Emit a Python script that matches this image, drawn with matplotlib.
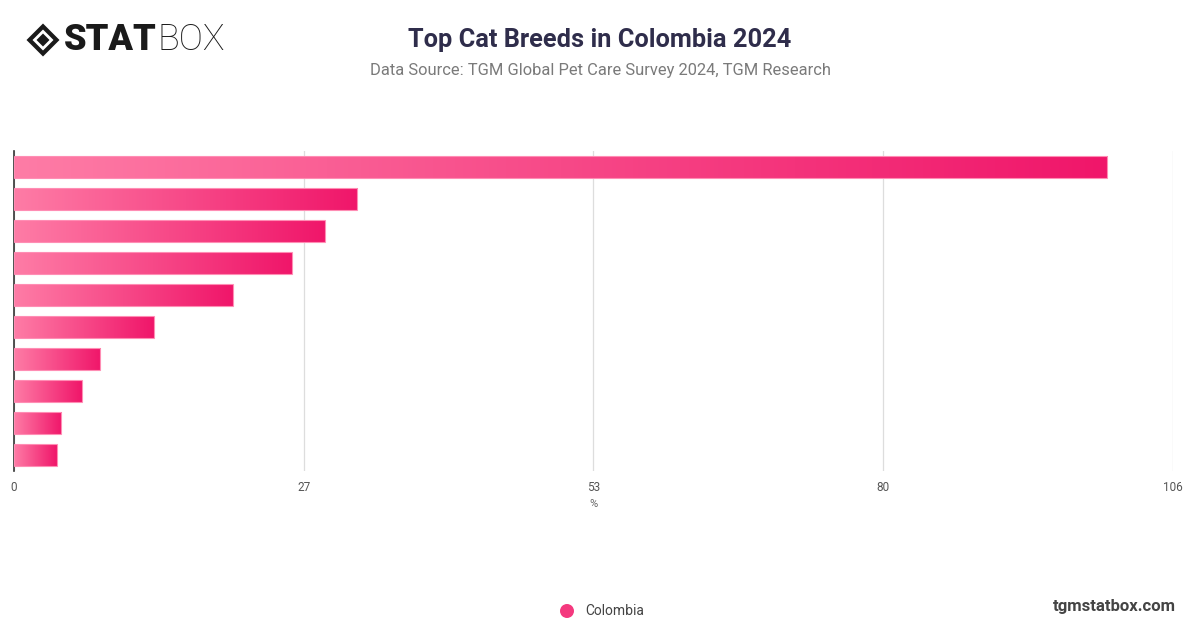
import matplotlib
matplotlib.use("Agg")
import matplotlib.pyplot as plt
import numpy as np
from matplotlib.colors import LinearSegmentedColormap
from matplotlib.patches import Polygon, Ellipse

# ---- data ----
categories = ["Breed 1", "Breed 2", "Breed 3", "Breed 4", "Breed 5",
              "Breed 6", "Breed 7", "Breed 8", "Breed 9", "Breed 10"]
values = [100.0, 31.4, 28.4, 25.4, 20.0, 12.8, 7.9, 6.2, 4.3, 3.9]
x_max = 106
xtick_labels = ["0", "27", "53", "80", "106"]
series_name = "Colombia"
title = "Top Cat Breeds in Colombia 2024"
subtitle = "Data Source: TGM Global Pet Care Survey 2024, TGM Research"

W, H = 1200, 628
fig = plt.figure(figsize=(W / 100, H / 100), dpi=100)
fig.patch.set_facecolor("white")

ax = fig.add_axes([14 / W, 1 - 471 / H, (1173 - 14) / W, (471 - 151) / H])
ypos = np.arange(len(categories))
bars = ax.barh(ypos, values, height=0.69, color="none", edgecolor="#ff8db4",
               linewidth=0.8, zorder=3)

cmap = LinearSegmentedColormap.from_list("pk", ["#fe7ca6", "#f0166a"])
grad = np.linspace(0, 1, 256).reshape(1, -1)
for rect in bars:
    x0, y0 = rect.get_x(), rect.get_y()
    w, h = rect.get_width(), rect.get_height()
    im = ax.imshow(grad, cmap=cmap, aspect="auto", extent=(x0, x0 + w, y0 + h, y0),
                   zorder=2, interpolation="bilinear")
    im.set_clip_path(rect)
ax.set_ylim(len(categories) - 0.5, -0.5)
ax.set_xlim(0, x_max)

xtick_pos = np.linspace(0, x_max, len(xtick_labels))
ax.set_xticks(xtick_pos)
ax.set_xticklabels(xtick_labels)
ax.set_yticks([])
ax.tick_params(axis="x", length=0, pad=7, labelsize=8.5, labelcolor="#555555")
for lab in ax.get_xticklabels():
    lab.set_fontfamily("Roboto")
for s in ["top", "right", "bottom"]:
    ax.spines[s].set_visible(False)
ax.spines["left"].set_color("#333333")
ax.spines["left"].set_linewidth(1.2)
ax.grid(axis="x", color="#dddddd", linewidth=0.9, zorder=0)
ax.set_axisbelow(True)
ax.set_xlabel("%", fontsize=8, color="#666666", family="Roboto", labelpad=4)

# titles
fig.text(0.5, 1 - 40 / H, title, ha="center", va="center", fontsize=18.3,
         fontweight="bold", color="#2f2d4b", family="Roboto")
fig.text(0.5, 1 - 71 / H, subtitle, ha="center", va="center", fontsize=11.9,
         color="#7a7a7a", family="Roboto")

# logo
cx, cy = 43 / W, 1 - 40 / H
dx, dy = 16.5 / W, 16.5 / H
fig.patches.append(Polygon([[cx - dx, cy], [cx, cy + dy], [cx + dx, cy], [cx, cy - dy]],
                           closed=True, transform=fig.transFigure,
                           facecolor="#1a1a1a", edgecolor="none"))
ix, iy = 10.5 / W, 10.5 / H
fig.patches.append(Polygon([[cx - ix, cy], [cx, cy + iy], [cx + ix, cy], [cx, cy - iy]],
                           closed=True, transform=fig.transFigure,
                           facecolor="white", edgecolor="none"))
ix2, iy2 = 6.5 / W, 6.5 / H
fig.patches.append(Polygon([[cx - ix2, cy], [cx, cy + iy2], [cx + ix2, cy], [cx, cy - iy2]],
                           closed=True, transform=fig.transFigure,
                           facecolor="#1a1a1a", edgecolor="none"))
t1 = fig.text(64 / W, 1 - 40 / H, "STAT", ha="left", va="center", fontsize=26,
              fontweight="black", color="#1a1a1a", family="Roboto")
fig.canvas.draw()
bb = t1.get_window_extent()
fig.text(bb.x1 / W + 1 / W, 1 - 40 / H, "BOX", ha="left", va="center", fontsize=26,
         fontweight="light", color="#1a1a1a", family="Roboto")

# legend
fig.patches.append(Ellipse((567 / W, 1 - 611 / H), 14 / W, 14 / H,
                           transform=fig.transFigure,
                           facecolor="#f4397e", edgecolor="none"))
fig.text(585 / W, 1 - 611 / H, series_name, ha="left", va="center", fontsize=10,
         color="#444444", family="Roboto")
fig.text(1176 / W, 1 - 606 / H, "tgmstatbox.com", ha="right", va="center",
         fontsize=12, fontweight="bold", color="#444444", family="Roboto")

fig.savefig("out.png", dpi=100, facecolor="white")
